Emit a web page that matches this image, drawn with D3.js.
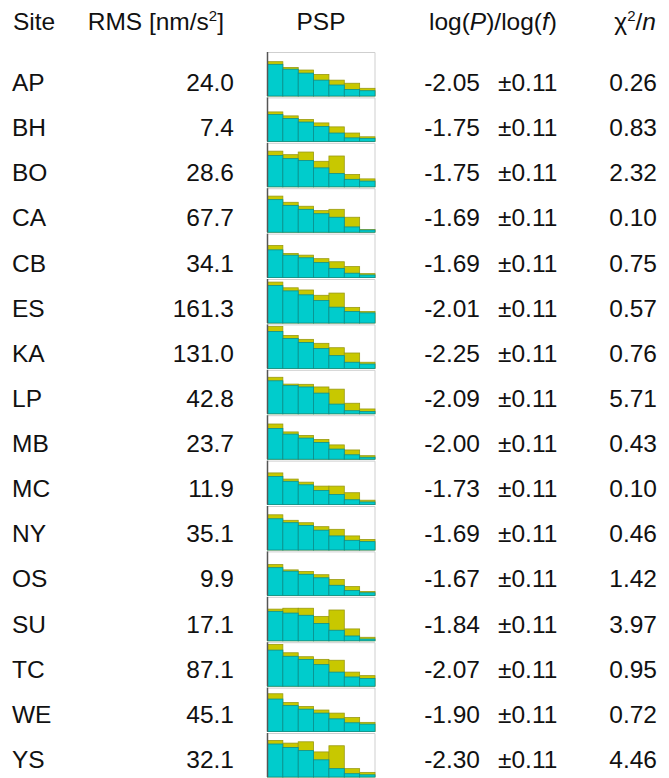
<!DOCTYPE html>
<html><head><meta charset="utf-8">
<script src="https://cdn.jsdelivr.net/npm/d3@7"></script>
<style>
html,body{margin:0;padding:0;background:#fff;}
svg text{font-family:"Liberation Sans",Arial,sans-serif;fill:#111;}
</style></head>
<body>
<svg id="chart" width="669" height="778"></svg>
<script>
const sites = ["AP","BH","BO","CA","CB","ES","KA","LP","MB","MC","NY","OS","SU","TC","WE","YS"];
const rmsValues = ["24.0","7.4","28.6","67.7","34.1","161.3","131.0","42.8","23.7","11.9","35.1","9.9","17.1","87.1","45.1","32.1"];
const slopeValues = ["-2.05","-1.75","-1.75","-1.69","-1.69","-2.01","-2.25","-2.09","-2.00","-1.73","-1.69","-1.67","-1.84","-2.07","-1.90","-2.30"];
const slopeErrors = ["±0.11","±0.11","±0.11","±0.11","±0.11","±0.11","±0.11","±0.11","±0.11","±0.11","±0.11","±0.11","±0.11","±0.11","±0.11","±0.11"];
const chi2Values = ["0.26","0.83","2.32","0.10","0.75","0.57","0.76","5.71","0.43","0.10","0.46","1.42","3.97","0.95","0.72","4.46"];
// PSP sparkline: observed (yellow top) and fitted (cyan top), 7 frequency bins, relative units
const pspObserved = [
  [0.78,0.65,0.59,0.49,0.36,0.29,0.175],
  [0.67,0.58,0.50,0.42,0.33,0.19,0.105],
  [0.81,0.73,0.79,0.58,0.70,0.28,0.18],
  [0.82,0.68,0.59,0.49,0.52,0.34,0.06],
  [0.73,0.55,0.51,0.43,0.36,0.25,0.09],
  [0.93,0.80,0.75,0.63,0.68,0.355,0.26],
  [0.95,0.75,0.66,0.57,0.47,0.35,0.14],
  [0.83,0.675,0.67,0.61,0.56,0.24,0.11],
  [0.80,0.62,0.54,0.45,0.325,0.21,0.08],
  [0.72,0.58,0.51,0.42,0.42,0.27,0.10],
  [0.80,0.675,0.62,0.53,0.47,0.32,0.24],
  [0.70,0.58,0.545,0.47,0.36,0.20,0.09],
  [0.72,0.74,0.74,0.555,0.70,0.27,0.08],
  [0.95,0.76,0.67,0.61,0.59,0.32,0.24],
  [0.86,0.66,0.57,0.49,0.42,0.32,0.21],
  [0.83,0.77,0.80,0.57,0.71,0.19,0.105]
];
const pspFitted = [
  [0.72,0.61,0.52,0.36,0.25,0.15,0.12],
  [0.61,0.52,0.44,0.34,0.19,0.08,0.07],
  [0.71,0.64,0.60,0.43,0.30,0.17,0.13],
  [0.74,0.61,0.52,0.42,0.34,0.12,0.05],
  [0.63,0.51,0.45,0.34,0.21,0.10,0.06],
  [0.85,0.73,0.64,0.51,0.36,0.26,0.23],
  [0.84,0.68,0.59,0.45,0.29,0.14,0.10],
  [0.75,0.64,0.61,0.47,0.22,0.07,0.05],
  [0.70,0.57,0.48,0.38,0.23,0.10,0.045],
  [0.64,0.53,0.45,0.32,0.23,0.11,0.06],
  [0.71,0.62,0.56,0.45,0.32,0.22,0.19],
  [0.63,0.55,0.48,0.40,0.23,0.11,0.06],
  [0.67,0.63,0.58,0.395,0.24,0.11,0.04],
  [0.82,0.68,0.61,0.49,0.32,0.21,0.175],
  [0.74,0.59,0.51,0.42,0.29,0.20,0.17],
  [0.75,0.67,0.60,0.39,0.19,0.075,0.05]
];
const bins = [0,1,2,3,4,5,6];

const svg = d3.select("#chart");
const n = sites.length;
const rowY = d3.scaleLinear().domain([0, n-1]).range([91, 768]);
const boxBottom = d3.scaleLinear().domain([0, n-1]).range([96, 777]);
const boxH = 44;
const xBin = d3.scaleBand().domain(bins).range([267.5, 375]).paddingInner(0);
const yVal = d3.scaleLinear().domain([0, 1]).range([boxH, 0]);

const FS = 24.5;
const HY = 30;
// Header
const header = svg.append("g").attr("font-size", FS);
header.append("text").attr("x", 13).attr("y", HY).text("Site");
const rmsH = header.append("text").attr("x", 224).attr("y", HY).attr("text-anchor", "end");
rmsH.append("tspan").text("RMS [nm/s");
rmsH.append("tspan").attr("font-size", 15).attr("dy", -9).text("2");
rmsH.append("tspan").attr("dy", 9).text("]");
header.append("text").attr("x", 321).attr("y", HY).attr("text-anchor", "middle").text("PSP");
const logH = header.append("text").attr("x", 493).attr("y", HY).attr("text-anchor", "middle");
logH.append("tspan").text("log(");
logH.append("tspan").attr("font-style", "italic").text("P");
logH.append("tspan").text(")/log(");
logH.append("tspan").attr("font-style", "italic").text("f");
logH.append("tspan").text(")");
const chiH = header.append("text").attr("x", 656).attr("y", HY).attr("text-anchor", "end");
chiH.append("tspan").text("χ");
chiH.append("tspan").attr("font-size", 15).attr("dy", -9).text("2");
chiH.append("tspan").attr("dy", 9).text("/");
chiH.append("tspan").attr("font-style", "italic").text("n");

// Rows
const rows = svg.append("g").attr("font-size", FS).selectAll("g.row")
  .data(sites.map((s, i) => ({i, s}))).join("g").attr("class", "row");
rows.append("text").attr("x", 12).attr("y", d => rowY(d.i)).text(d => d.s);
rows.append("text").attr("x", 234).attr("y", d => rowY(d.i)).attr("text-anchor", "end").text(d => rmsValues[d.i]);
rows.append("text").attr("x", 480).attr("y", d => rowY(d.i)).attr("text-anchor", "end").text(d => slopeValues[d.i]);
rows.append("text").attr("x", 498).attr("y", d => rowY(d.i)).text(d => slopeErrors[d.i]);
rows.append("text").attr("x", 657).attr("y", d => rowY(d.i)).attr("text-anchor", "end").text(d => chi2Values[d.i]);

// Sparklines
const spark = svg.append("g").selectAll("g.spark")
  .data(sites.map((s, i) => i)).join("g").attr("class", "spark")
  .attr("transform", i => `translate(0,${boxBottom(i) - boxH})`);
spark.append("path")
  .attr("d", `M${xBin.range()[0]},0.5H${xBin.range()[1]}V${boxH}`)
  .attr("fill", "none").attr("stroke", "#cfcfcf").attr("stroke-width", 1);
spark.selectAll("rect.obs").data(i => bins.map(b => ({b, v: pspObserved[i][b]}))).join("rect")
  .attr("class", "obs")
  .attr("x", d => xBin(d.b)).attr("width", xBin.bandwidth())
  .attr("y", d => yVal(d.v)).attr("height", d => boxH - yVal(d.v))
  .attr("fill", "#c8c800").attr("stroke", "#9a9a10").attr("stroke-width", 0.8);
spark.selectAll("rect.fit").data(i => bins.map(b => ({b, v: pspFitted[i][b]}))).join("rect")
  .attr("class", "fit")
  .attr("x", d => xBin(d.b)).attr("width", xBin.bandwidth())
  .attr("y", d => yVal(d.v)).attr("height", d => boxH - yVal(d.v))
  .attr("fill", "#00cccc").attr("stroke", "#0a8f8f").attr("stroke-width", 0.8);
spark.append("line")
  .attr("x1", xBin.range()[0]).attr("x2", xBin.range()[0])
  .attr("y1", 0).attr("y2", boxH)
  .attr("stroke", "#555").attr("stroke-width", 1.5);
</script>
</body></html>
